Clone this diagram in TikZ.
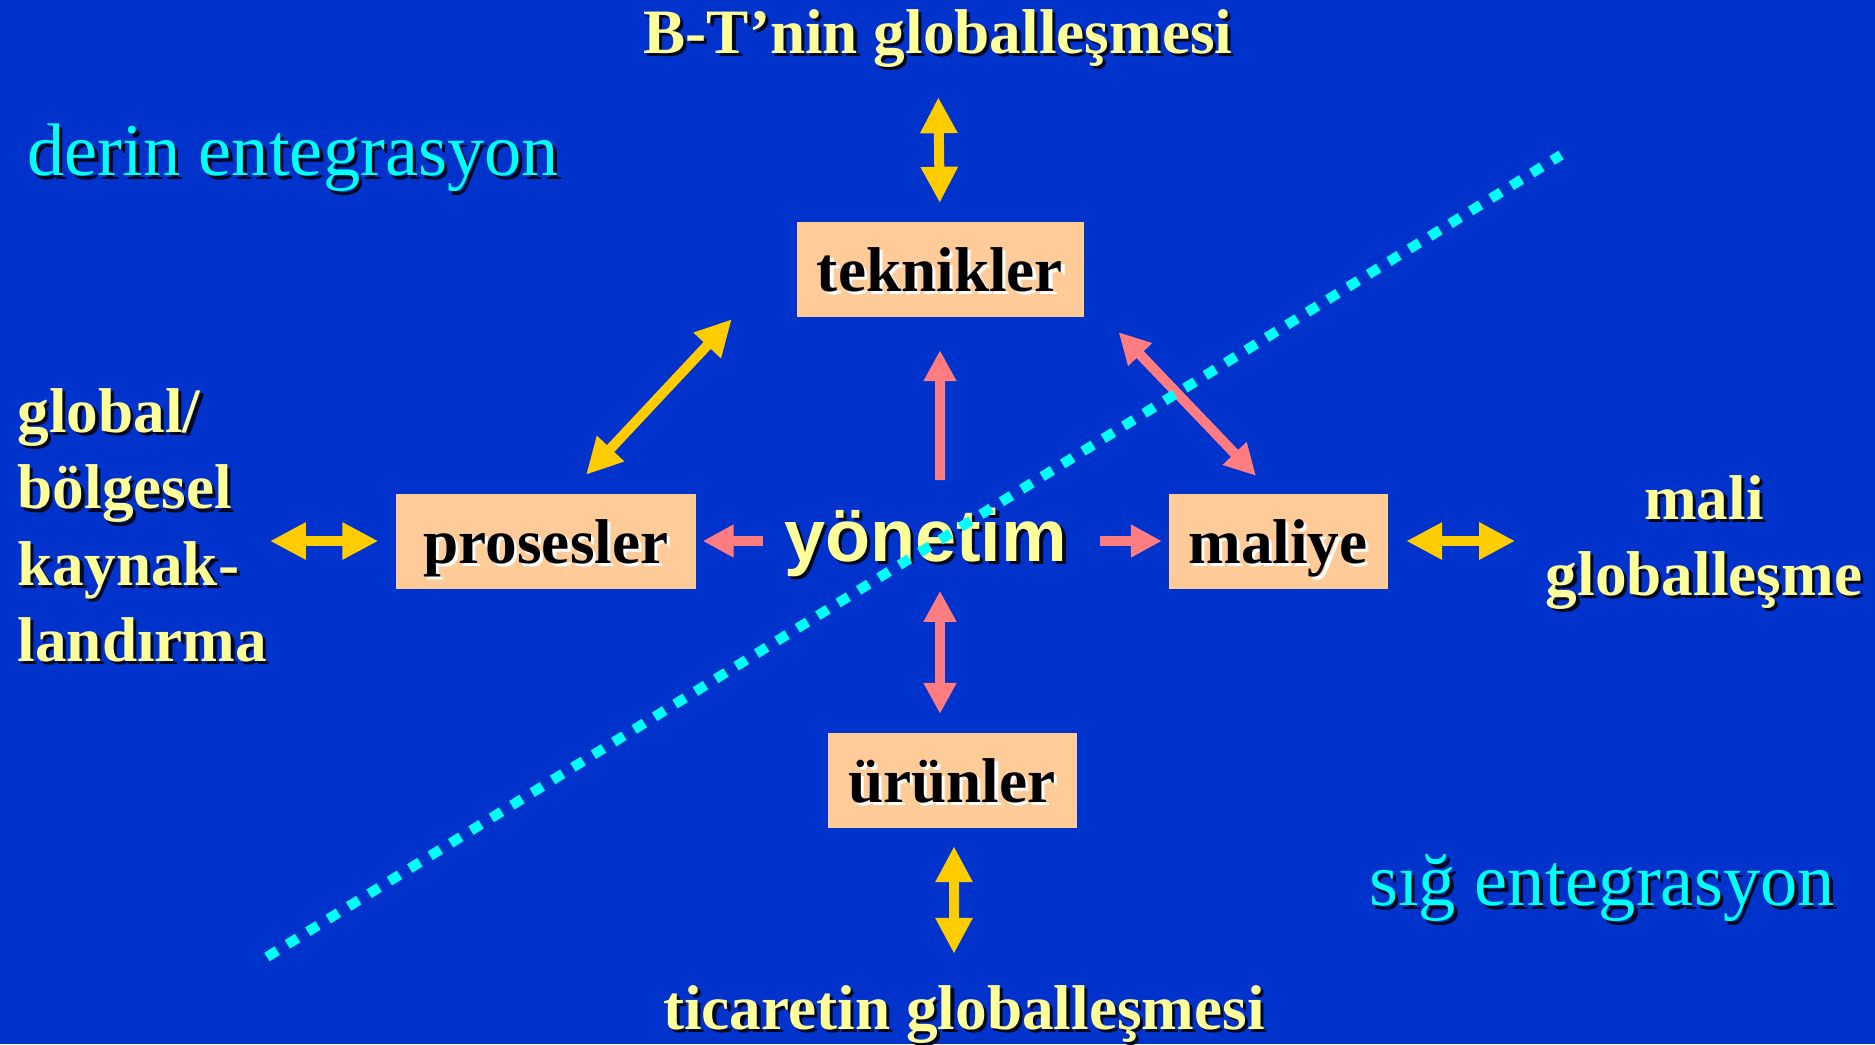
\documentclass[tikz,border=0pt]{standalone}
\usepackage{xcolor}
\usepackage{fontspec}
\setmainfont{Liberation Serif}
\newfontfamily\yonfont{Liberation Sans}
\usepackage{tikz}
\usetikzlibrary{arrows.meta, calc}
\definecolor{slideblue}{HTML}{0033CC}
\definecolor{boxpeach}{HTML}{FFCC99}
\definecolor{gold}{HTML}{FFCC00}
\definecolor{pinkarrow}{HTML}{FF7C80}
\definecolor{paleyellow}{HTML}{FFFF99}
\definecolor{aqua}{HTML}{00FFFF}
\newcommand{\shd}[2][black!85!slideblue]{\leavevmode\rlap{\kern0.05em\raisebox{-0.05em}{\textcolor{#1}{#2}}}#2}
\tikzset{
  box/.style={fill=boxpeach, text=black, font=\bfseries\fontsize{18}{21.7}\selectfont, minimum height=0.95cm, inner sep=0pt, text height=12.6pt, text depth=0pt},
  goldtext/.style={text=paleyellow, font=\bfseries\fontsize{18}{21.7}\selectfont, inner sep=0pt},
  zonetext/.style={text=aqua, font=\fontsize{21.2}{25}\selectfont, inner sep=0pt},
  yarrow/.style={draw=gold, line width=0.1cm, {Triangle[length=0.36cm, width=0.35cm]}-{Triangle[length=0.36cm, width=0.35cm]}},
  parrow/.style={draw=pinkarrow, line width=0.1cm, -{Triangle[length=0.31cm, width=0.31cm]}},
  pdarrow/.style={parrow, {Triangle[length=0.31cm, width=0.31cm]}-{Triangle[length=0.31cm, width=0.31cm]}},
  cutline/.style={draw=aqua, line width=0.1cm, dash pattern=on 0.12cm off 0.12cm},
}
\begin{document}
\begin{tikzpicture}
\fill[slideblue] (0,0) rectangle (18.75,-10.44);
\useasboundingbox (0,0) rectangle (18.75,-10.44);

\node[goldtext] (bt) at (9.38,-0.40) {\shd{B-T’nin globalleşmesi}};
\node[zonetext] (derin) at (2.93,-1.60) {\shd{derin entegrasyon}};
\node[box, minimum width=2.87cm] (tek) at (9.40,-2.69) {\shd[white]{teknikler}};
\node[box, minimum width=3.00cm] (pros) at (5.46,-5.41) {\shd[white]{prosesler}};
\node[box, minimum width=2.19cm] (mal) at (12.78,-5.41) {\shd[white]{maliye}};
\node[box, minimum width=2.49cm] (urun) at (9.52,-7.80) {\shd[white]{ürünler}};
\node[text=paleyellow, font=\yonfont\bfseries\fontsize{21}{25}\selectfont, inner sep=0pt] (yon) at (9.255,-5.44) {\shd{yönetim}};
\node[goldtext, align=left, anchor=west] (glob) at (0.17,-5.27) {\shd{global/}\\\shd{bölgesel}\\\shd{kaynak-}\\\shd{landırma}};
\node[goldtext, align=center] (mali) at (17.04,-5.44) {\shd{mali}\\\shd{globalleşme}};
\node[goldtext] (tic) at (9.64,-10.16) {\shd{ticaretin globalleşmesi}};
\node[zonetext] (sig) at (16.02,-8.90) {\shd{sığ entegrasyon}};

\draw[yarrow, shorten <=0.26cm, shorten >=0.18cm] (bt.south) -- (tek.north);
\draw[yarrow] ([shift={(-0.64cm,-0.02cm)}]tek.south west) -- ([shift={(0.40cm,0.18cm)}]pros.north);
\draw[parrow, shorten <=0.27cm, shorten >=0.33cm] ([xshift=1.45mm]yon.north) -- (tek.south);
\draw[pdarrow] ([shift={(0.345cm,-0.15cm)}]tek.south east) -- ([shift={(-0.22cm,0.17cm)}]mal.north);
\draw[parrow, shorten <=0.20cm, shorten >=0.06cm] (yon.west |- pros.east) -- (pros.east);
\draw[parrow, shorten <=0.32cm, shorten >=0.06cm] (yon.east |- mal.west) -- (mal.west);
\draw[pdarrow, shorten <=0.10cm, shorten >=0.18cm] ([xshift=1.45mm]yon.south) -- ([xshift=-1.2mm]urun.north);
\draw[yarrow, shorten <=0.18cm, shorten >=0.31cm] ([xshift=0.2mm]urun.south) -- ([xshift=-1mm]tic.north);
\draw[yarrow, shorten <=0.02cm, shorten >=0.17cm] (glob.east |- pros.west) -- (pros.west);
\draw[yarrow, shorten <=0.18cm, shorten >=0.30cm] (mal.east) -- (mal.east -| mali.west);

\coordinate (cutA) at (2.67,-9.57);
\coordinate (cutB) at (15.61,-1.55);
\draw[cutline] (cutA) -- (cutB);
\end{tikzpicture}
\end{document}
